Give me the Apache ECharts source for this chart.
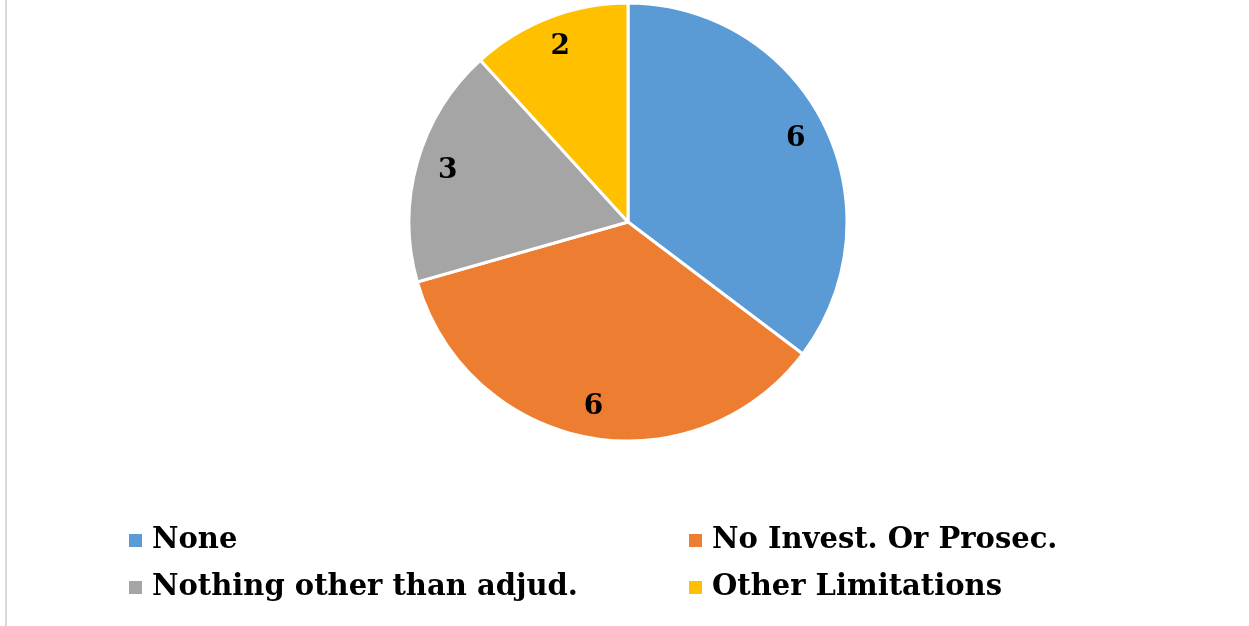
<!DOCTYPE html>
<html>
<head>
<meta charset="utf-8">
<script src="https://cdn.jsdelivr.net/npm/echarts@6/dist/echarts.min.js"></script>
<style>
  html, body { margin: 0; padding: 0; background: #ffffff; }
  #chart { width: 1249px; height: 626px; }
</style>
</head>
<body>
<div id="chart"></div>
<script>
// Categories and counts
const categories = ['None', 'No Invest. Or Prosec.', 'Nothing other than adjud.', 'Other Limitations'];
const counts = [6, 6, 3, 2];
const sliceColors = ['#5B9BD5', '#ED7D31', '#A5A5A5', '#FFC000'];

const FONT = 'DejaVu Serif';
const CENTER = [628, 222];
const R = 219;

const pieData = categories.map((name, i) => ({
  name: name,
  value: counts[i],
  itemStyle: { color: sliceColors[i] }
}));

const chart = echarts.init(document.getElementById('chart'), null, { renderer: 'canvas' });

const legendText = {
  fontFamily: FONT,
  fontWeight: 'bold',
  fontSize: 29,
  color: '#000000',
  padding: [0, 0, 0, 5]
};

function legendColumn(left, names) {
  return {
    orient: 'vertical',
    left: left,
    top: 521,
    itemWidth: 13,
    itemHeight: 13,
    itemGap: 18,
    icon: 'rect',
    itemStyle: { borderWidth: 0 },
    data: names,
    textStyle: legendText
  };
}

chart.setOption({
  animation: false,
  backgroundColor: '#ffffff',
  graphic: [{
    type: 'rect',
    shape: { x: 5, y: 0, width: 2, height: 626 },
    style: { fill: '#d9d9d9' },
    silent: true
  }],
  legend: [
    legendColumn(124, [categories[0], categories[2]]),
    legendColumn(684, [categories[1], categories[3]])
  ],
  series: [{
    // slices
    type: 'pie',
    center: CENTER,
    radius: [0, R],
    startAngle: 90,
    clockwise: true,
    avoidLabelOverlap: false,
    label: { show: false },
    labelLine: { show: false },
    itemStyle: { borderColor: '#ffffff', borderWidth: 3 },
    emphasis: { disabled: true },
    data: pieData
  }, {
    // value labels placed near the rim
    type: 'pie',
    center: CENTER,
    radius: [150, R],
    startAngle: 90,
    clockwise: true,
    silent: true,
    avoidLabelOverlap: false,
    itemStyle: { color: 'rgba(0,0,0,0)', borderWidth: 0 },
    label: {
      show: true,
      position: 'inside',
      formatter: '{c}',
      fontFamily: FONT,
      fontWeight: 'bold',
      fontSize: 28,
      color: '#000000',
      padding: [8, 0, 0, 0]
    },
    labelLine: { show: false },
    emphasis: { disabled: true },
    data: categories.map((name, i) => ({ name: name, value: counts[i] }))
  }]
});
</script>
</body>
</html>
